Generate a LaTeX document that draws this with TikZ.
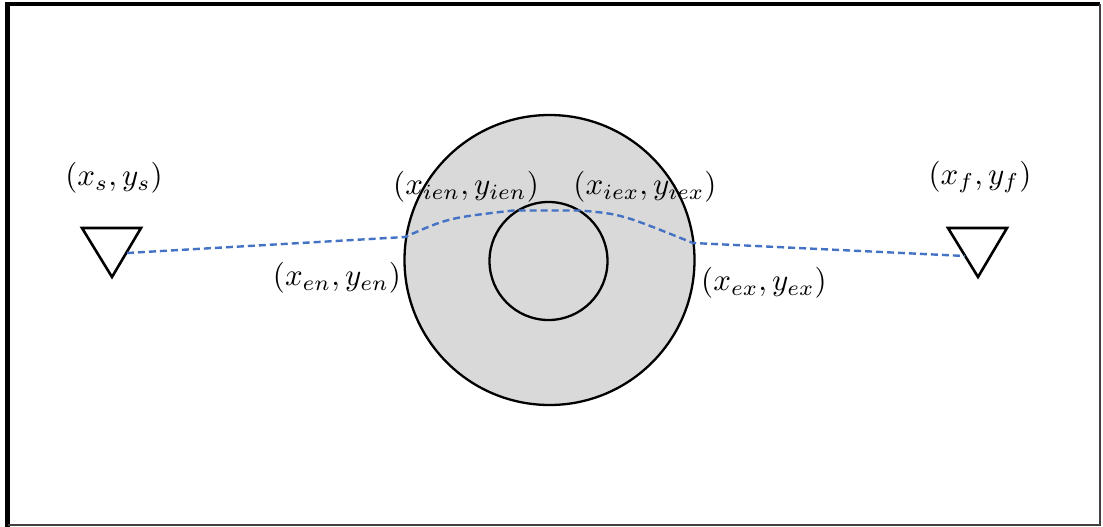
\documentclass[tikz,border=0pt]{standalone}
\usepackage{graphicx}
\usepackage{xcolor}
\definecolor{ringgray}{HTML}{D9D9D9}
\definecolor{pathblue}{HTML}{4472C4}
\newcommand{\lbltext}[1]{\scalebox{3.1}{$#1$}}
\begin{document}
\begin{tikzpicture}[x=1pt,y=-1pt,
  lbl/.style={inner sep=0pt},
  ring/.style={draw=black,line width=2.3pt,fill=ringgray},
  station/.style={draw=black,line width=2.6pt,line join=miter},
  ray/.style={draw=pathblue,line width=2.4pt,dash pattern=on 7pt off 4pt}]
\useasboundingbox (0,0) rectangle (1103,527);
\fill[white] (0,0) rectangle (1103,527);
% frame
\draw[black,line width=4.5pt] (7.5,528) -- (7.5,4) -- (1100,4);
\draw[black!75,line width=2.5pt] (1100,4) -- (1100,525) -- (7.5,525);
% rings
\node[ring,circle,minimum size=290pt,inner sep=0pt] (outer) at (549.5,260) {};
\node[ring,circle,minimum size=118pt,inner sep=0pt] (inner) at (548.5,261) {};
% stations
\coordinate (sa) at (82,228); \coordinate (sb) at (141,228); \coordinate (sc) at (112,277);
\coordinate (fa) at (948,228); \coordinate (fb) at (1007,228); \coordinate (fc) at (978,277);
\draw[station] (sa) -- (sb) -- (sc) -- cycle;
\draw[station] (fa) -- (fb) -- (fc) -- cycle;
% ray points
\coordinate (src) at (127,253);
\coordinate (en) at (405,237);
\coordinate (ien) at (513,210.5);
\coordinate (iex) at (580,210.5);
\coordinate (ex) at (693,243);
\coordinate (rcv) at (965,256);
\draw[ray] (src) -- (en) .. controls (448,218) .. (ien) -- (iex) .. controls (621,214) .. (ex) -- (rcv);
% labels
\node[lbl] (ls) at (114,178) {\lbltext{(x_s,y_s)}};
\node[lbl] (lf) at (980,177) {\lbltext{(x_f,y_f)}};
\node[lbl] (lien) at (466,187) {\lbltext{(x_{ien},y_{ien})}};
\node[lbl] (liex) at (645,187) {\lbltext{(x_{iex},y_{iex})}};
\node[lbl] (len) at (337,278) {\lbltext{(x_{en},y_{en})}};
\node[lbl] (lex) at (764,283) {\lbltext{(x_{ex},y_{ex})}};
\end{tikzpicture}
\end{document}
